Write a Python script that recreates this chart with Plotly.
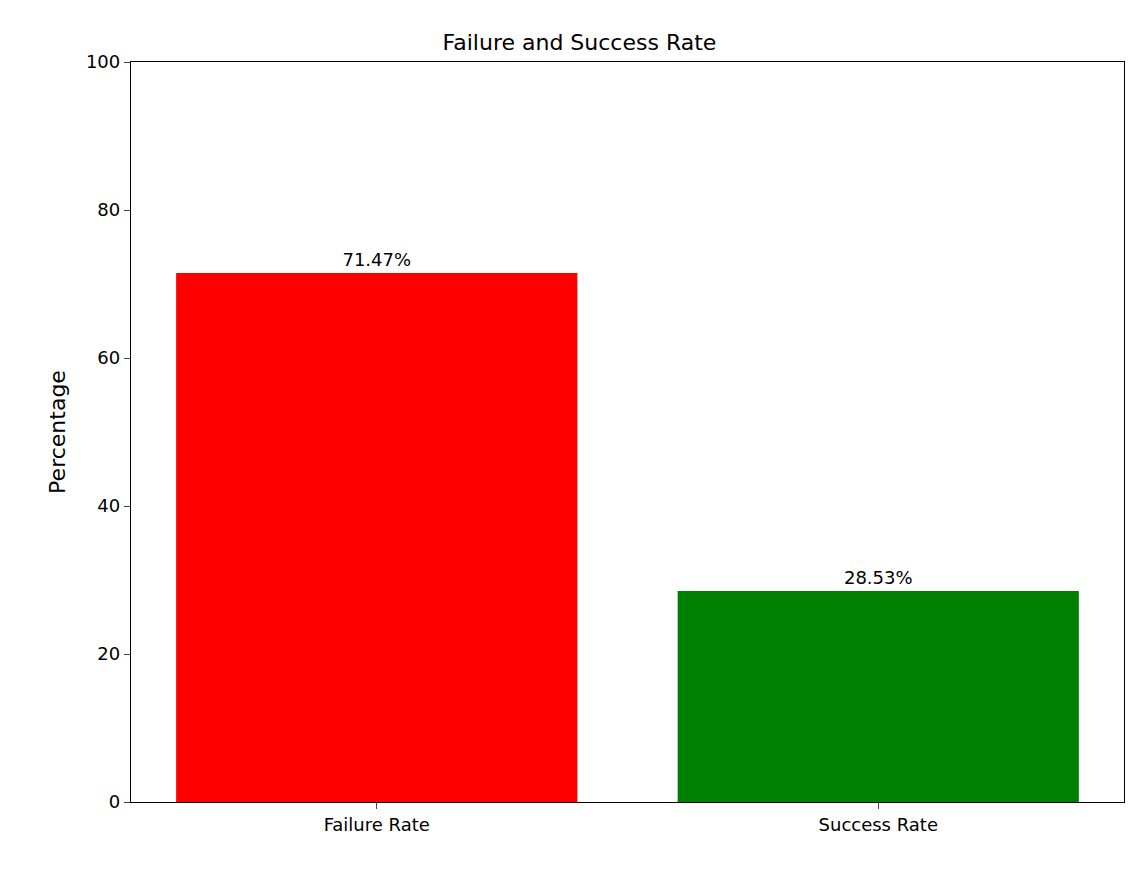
import plotly.graph_objects as go

categories = ["Failure Rate", "Success Rate"]
values = [71.47, 28.53]
colors = ["red", "green"]
labels = [f"{v:.2f}%" for v in values]

fig = go.Figure(go.Bar(
    x=[0, 1], y=values, width=0.8, marker=dict(color=colors, line=dict(width=0)),
    text=labels, textposition="outside", cliponaxis=False,
    textfont=dict(color="black", size=18)))
fig.update_layout(
    width=1143, height=869, plot_bgcolor="white", paper_bgcolor="white",
    margin=dict(l=123, r=27, t=54, b=75),
    font=dict(family="DejaVu Sans", size=18, color="black"),
    title=dict(text="Failure and Success Rate", x=0.5, xanchor="center", y=0.96, yanchor="middle", font=dict(size=22)),
    showlegend=False,
    xaxis=dict(range=[-0.49, 1.49], tickvals=[0, 1], ticktext=categories, showline=True, mirror=True,
               linecolor="black", linewidth=1.3, ticks="outside", ticklen=6, showgrid=False, zeroline=False),
    yaxis=dict(range=[0, 100], tickvals=[0, 20, 40, 60, 80, 100], title=dict(text="Percentage", standoff=14),
               showline=True, mirror=True, linecolor="black", linewidth=1.3, ticks="outside", ticklen=6,
               showgrid=False, zeroline=False),
)
fig.write_html("out.html")
